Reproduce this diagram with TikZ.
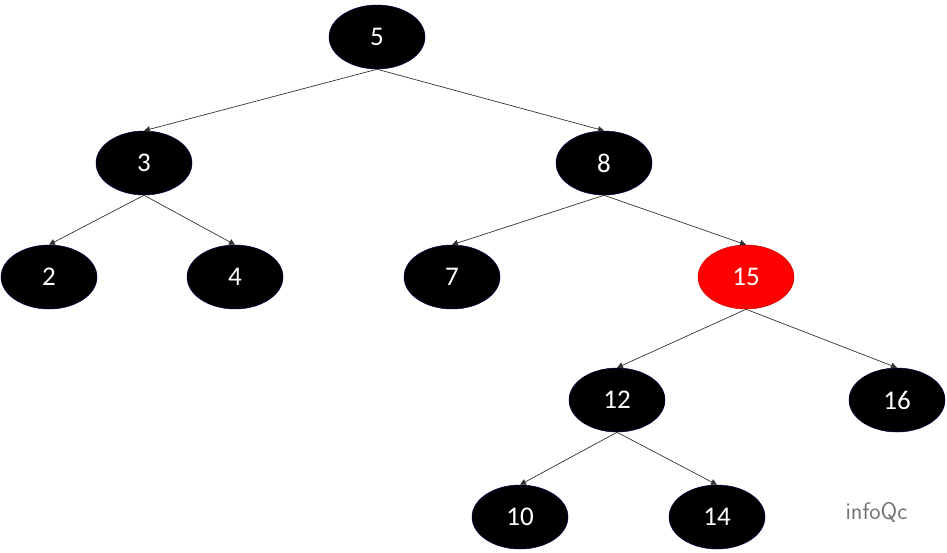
\documentclass[tikz,border=0pt]{standalone}
\usepackage{fontspec}
\setmainfont{Carlito}
\usetikzlibrary{shapes.geometric,arrows.meta}
\begin{document}
\begin{tikzpicture}[x=1pt,y=-1pt,
 nd/.style={ellipse,fill=black,draw=black!70!blue,line width=0.5pt,minimum width=96pt,minimum height=64pt,inner sep=0pt,text=white,font=\fontsize{27}{27}\selectfont},
 ed/.style={draw=black!80,line width=0.7pt,-{Triangle[length=6pt,width=6pt]}}]
\useasboundingbox (0,0) rectangle (947,552);
\node[nd] (n5) at (377,37) {5};
\node[nd] (n3) at (144,163) {3};
\node[nd] (n8) at (604,163) {8};
\node[nd] (n2) at (49,277) {2};
\node[nd] (n4) at (235,277) {4};
\node[nd] (n7) at (452,277) {7};
\node[nd,fill=red,draw=red!80!black] (n15) at (746,277) {15};
\node[nd] (n12) at (617,400) {12};
\node[nd] (n16) at (897,400) {16};
\node[nd] (n10) at (520,517) {10};
\node[nd] (n14) at (717,517) {14};
\foreach \a/\b in {n5/n3,n5/n8,n3/n2,n3/n4,n8/n7,n8/n15,n15/n12,n15/n16,n12/n10,n12/n14}
  \draw[ed] (\a.south) -- (\b.north);
\node[text=black!55,font=\fontsize{24}{24}\selectfont\sffamily,anchor=west] (wm) at (842,512) {infoQc};
\end{tikzpicture}
\end{document}
